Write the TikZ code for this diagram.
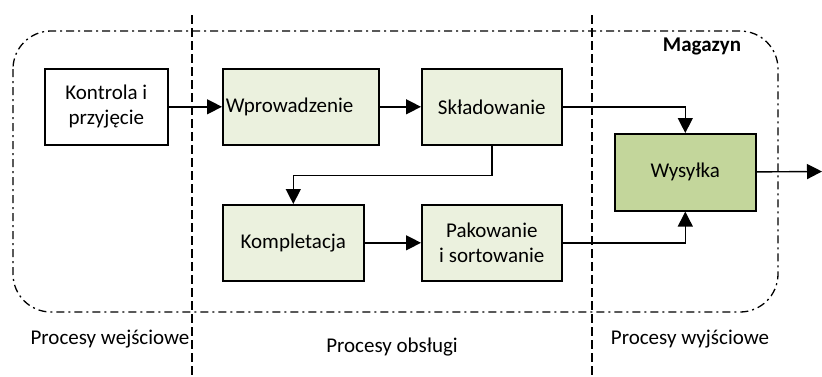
\documentclass[tikz,border=0pt]{standalone}
\usepackage{fontspec}
\setmainfont{Carlito}
\usetikzlibrary{arrows.meta}
\definecolor{paleGreen}{HTML}{EBF1DE}
\definecolor{midGreen}{HTML}{C3D69B}
\definecolor{ink}{HTML}{000000}

\tikzset{
  procbox/.style={draw=ink, line width=1.6pt, minimum height=76pt, anchor=north west, align=center, inner sep=2pt},
  flow/.style={draw=ink, line width=1.4pt, -{Triangle[length=15pt,width=15pt]}},
  zone/.style={draw=ink, line width=1.4pt, dash pattern=on 9pt off 4pt},
}

\begin{document}
\begin{tikzpicture}[x=1pt, y=-1pt, font=\fontsize{21}{25}\selectfont]
\useasboundingbox (0,0) rectangle (822,376);

% warehouse outline and zones
\draw[ink, line width=1.3pt, dash pattern=on 8pt off 4pt on 2pt off 4pt, rounded corners=38pt] (13,31) rectangle (778,312);
\draw[zone] (192,15) -- (192,376);
\draw[zone] (592,15) -- (592,376);

\node[procbox, fill=white, minimum width=123pt] (kon) at (44,68) {Kontrola i\\przyjęcie};
\node[procbox, fill=paleGreen, minimum width=156pt, text width=150pt, align=left, inner xsep=3pt] (wpr) at (222,68) {Wprowadzenie\\[4pt]};
\node[procbox, fill=paleGreen, minimum width=140pt] (skl) at (421,68) {Składowanie};
\node[procbox, fill=midGreen, minimum width=141pt, minimum height=77pt] (wys) at (614,133) {Wysyłka};
\node[procbox, fill=paleGreen, minimum width=141pt] (kom) at (222,204) {Kompletacja};
\node[procbox, fill=paleGreen, minimum width=140pt] (pak) at (421,204) {Pakowanie\\i sortowanie};
\coordinate (out) at (822,171.5);

\node[font=\fontsize{21}{25}\selectfont\bfseries] (mag) at (702,46) {Magazyn};
\node (wej) at (110,339) {Procesy wejściowe};
\node (obs) at (392,347) {Procesy obsługi};
\node (wyj) at (690,339) {Procesy wyjściowe};

\draw[flow] (kon) -- (wpr.west |- kon);
\draw[flow] (wpr.east |- kon) -- (skl);
\draw[flow] (skl) -| (wys);
\draw[flow] (skl.south) -- ++(0,30) -| (kom.north);
\draw[flow] (kom) -- (pak);
\draw[flow] (pak) -| (wys);
\draw[flow] (wys) -- (out);
\end{tikzpicture}
\end{document}
